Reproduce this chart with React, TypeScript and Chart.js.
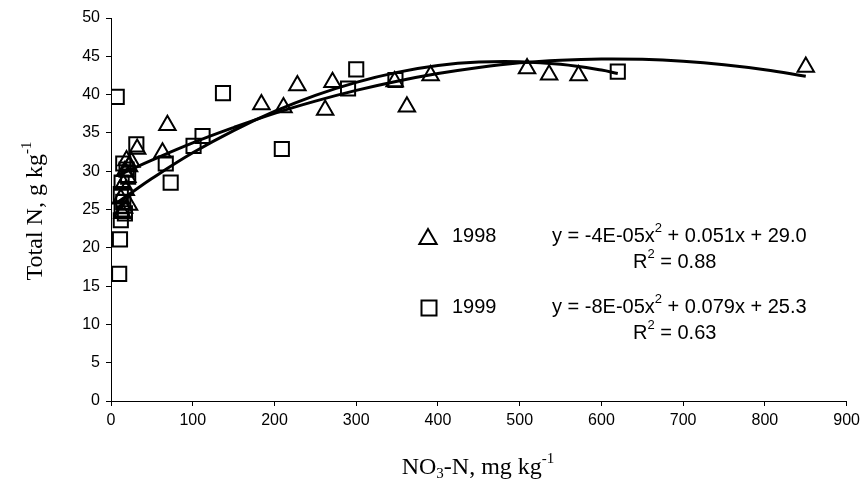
import { useEffect, useRef } from "react";
import { Chart, registerables } from "chart.js";

Chart.register(...registerables);

// 1998 observations (NO3-N mg/kg, Total N g/kg)
const x1998 = [14, 16, 22, 12, 18, 15, 20, 17, 22, 25, 19, 32, 63, 69, 184, 211, 228, 262, 271, 347, 362, 391, 509, 536, 572, 850];
const y1998 = [24.5, 25.2, 25.6, 26.4, 27.5, 28.3, 29.2, 30.0, 30.6, 31.2, 31.4, 32.9, 32.4, 36.0, 38.7, 38.3, 41.2, 38.0, 41.6, 41.7, 38.4, 42.5, 43.4, 42.6, 42.5, 43.6];

// 1999 observations
const x1999 = [7, 10, 11, 12, 13, 17, 15, 12, 13, 21, 19, 15, 31, 67, 73, 101, 112, 137, 209, 290, 300, 348, 620];
const y1999 = [39.7, 16.6, 21.1, 23.6, 25.0, 24.5, 26.0, 27.0, 28.5, 29.3, 30.2, 31.0, 33.5, 31.0, 28.5, 33.3, 34.6, 40.2, 32.9, 40.8, 43.3, 41.9, 43.0];

// Trend curves
const trend1998X = [8, 25, 50, 100, 150, 200, 250, 300, 350, 400, 450, 500, 550, 600, 650, 700, 750, 800, 850];
const trend1998Y = [29.4, 30.25, 31.45, 33.7, 35.7, 37.55, 39.15, 40.55, 41.75, 42.75, 43.55, 44.15, 44.5, 44.65, 44.6, 44.35, 43.9, 43.25, 42.4];
const trend1999X = [7, 25, 50, 100, 150, 200, 250, 300, 350, 400, 450, 500, 550, 600, 620];
const trend1999Y = [25.85, 27.2, 29.05, 32.4, 35.3, 37.8, 39.9, 41.6, 42.9, 43.8, 44.25, 44.3, 43.95, 43.2, 42.75];

const xTicksMax = 900;
const yTicksMax = 50;

const legendYears = ["1998", "1999"];
const eqMain = [
  ["y = -4E-05x", "2", " + 0.051x + 29.0"],
  ["y = -8E-05x", "2", " + 0.079x + 25.3"],
];
const eqR2 = ["0.88", "0.63"];

const SANS = "'Liberation Sans', Arial, sans-serif";
const SERIF = "'Liberation Serif', 'Times New Roman', serif";

function toPts(xs: number[], ys: number[]) {
  return xs.map((x, i) => ({ x, y: ys[i] }));
}

function drawTriangle(ctx: CanvasRenderingContext2D, x: number, y: number, r: number) {
  ctx.beginPath();
  ctx.moveTo(x, y - r);
  ctx.lineTo(x + r * Math.sin((2 * Math.PI) / 3), y - r * Math.cos((2 * Math.PI) / 3));
  ctx.lineTo(x + r * Math.sin((4 * Math.PI) / 3), y - r * Math.cos((4 * Math.PI) / 3));
  ctx.closePath();
  ctx.stroke();
}

function drawSeg(ctx: CanvasRenderingContext2D, parts: string[], x: number, y: number, big: number, small: number) {
  parts.forEach((p, i) => {
    const sup = i % 2 === 1;
    ctx.font = `${sup ? small : big}px ${SANS}`;
    ctx.fillText(p, x, sup ? y - 8 : y);
    x += ctx.measureText(p).width;
  });
}

const annotPlugin = {
  id: "annot",
  afterDraw(chart: any) {
    const ctx: CanvasRenderingContext2D = chart.ctx;
    ctx.save();
    ctx.fillStyle = "#000";
    ctx.strokeStyle = "#000";
    ctx.lineWidth = 2;
    // legend markers
    drawTriangle(ctx, 428, 239, 10);
    ctx.strokeRect(421.5, 300.5, 15, 15);
    ctx.textBaseline = "middle";
    ctx.textAlign = "left";
    ctx.font = `20px ${SANS}`;
    ctx.fillText(legendYears[0], 452, 236);
    ctx.fillText(legendYears[1], 452, 307);
    const rows = [236, 307];
    rows.forEach((ry, i) => {
      drawSeg(ctx, eqMain[i], 552, ry, 20, 13);
      drawSeg(ctx, ["R", "2", " = " + eqR2[i]], 633, ry + 26, 20, 13);
    });
    // x title: NO3-N, mg kg-1
    const big = 24, small = 15;
    const p1 = "NO", p2 = "3", p3 = "-N, mg kg", p4 = "-1";
    ctx.font = `${big}px ${SERIF}`;
    const w1 = ctx.measureText(p1).width;
    const w3 = ctx.measureText(p3).width;
    ctx.font = `${small}px ${SERIF}`;
    const w2 = ctx.measureText(p2).width;
    const w4 = ctx.measureText(p4).width;
    const total = w1 + w2 + w3 + w4;
    let tx = 478 - total / 2;
    const ty = 468;
    ctx.font = `${big}px ${SERIF}`;
    ctx.fillText(p1, tx, ty);
    tx += w1;
    ctx.font = `${small}px ${SERIF}`;
    ctx.fillText(p2, tx, ty + 6);
    tx += w2;
    ctx.font = `${big}px ${SERIF}`;
    ctx.fillText(p3, tx, ty);
    tx += w3;
    ctx.font = `${small}px ${SERIF}`;
    ctx.fillText(p4, tx, ty - 9);
    // y title: Total N, g kg-1
    ctx.save();
    ctx.translate(36, 211);
    ctx.rotate(-Math.PI / 2);
    const q1 = "Total N, g kg", q2 = "-1";
    ctx.font = `${big}px ${SERIF}`;
    const v1 = ctx.measureText(q1).width;
    ctx.font = `${small}px ${SERIF}`;
    const v2 = ctx.measureText(q2).width;
    let qx = -(v1 + v2) / 2;
    ctx.font = `${big}px ${SERIF}`;
    ctx.fillText(q1, qx, 0);
    qx += v1;
    ctx.font = `${small}px ${SERIF}`;
    ctx.fillText(q2, qx, -9);
    ctx.restore();
    ctx.restore();
  },
};

export default function App() {
  const ref = useRef<HTMLCanvasElement | null>(null);
  useEffect(() => {
    if (!ref.current) return;
    const chart = new Chart(ref.current, {
      type: "scatter",
      data: {
        datasets: [
          {
            label: "1998 trend",
            type: "line",
            data: toPts(trend1998X, trend1998Y),
            borderColor: "#000",
            borderWidth: 3,
            pointRadius: 0,
            tension: 0.4,
            fill: false,
            order: 2,
          },
          {
            label: "1999 trend",
            type: "line",
            data: toPts(trend1999X, trend1999Y),
            borderColor: "#000",
            borderWidth: 3,
            pointRadius: 0,
            tension: 0.4,
            fill: false,
            order: 2,
          },
          {
            label: "1998",
            data: toPts(x1998, y1998),
            pointStyle: "triangle",
            pointRadius: 9.5,
            borderColor: "#000",
            backgroundColor: "rgba(0,0,0,0)",
            pointBorderWidth: 2,
            order: 1,
          },
          {
            label: "1999",
            data: toPts(x1999, y1999),
            pointStyle: "rect",
            pointRadius: 10,
            borderColor: "#000",
            backgroundColor: "rgba(0,0,0,0)",
            pointBorderWidth: 2,
            order: 1,
          },
        ],
      },
      options: {
        animation: false,
        responsive: false,
        maintainAspectRatio: false,
        layout: { padding: { top: 18, right: 18, left: 0, bottom: 0 } },
        plugins: { legend: { display: false }, tooltip: { enabled: false } },
        scales: {
          x: {
            type: "linear",
            min: 0,
            max: xTicksMax,
            ticks: { stepSize: 100, color: "#000", font: { family: SANS, size: 16 }, padding: 5 },
            grid: { drawOnChartArea: false, drawTicks: true, tickLength: 5, color: "#000" },
            border: { color: "#000", width: 1 },
            afterFit: (s: any) => {
              s.height = 91;
            },
          },
          y: {
            type: "linear",
            min: 0,
            max: yTicksMax,
            ticks: { stepSize: 5, color: "#000", font: { family: SANS, size: 16 }, padding: 6 },
            grid: { drawOnChartArea: false, drawTicks: true, tickLength: 5, color: "#000" },
            border: { color: "#000", width: 1 },
            afterFit: (s: any) => {
              s.width = 111;
            },
          },
        },
      },
      plugins: [annotPlugin],
    } as any);
    return () => chart.destroy();
  }, []);
  return (
    <div style={{ position: "absolute", left: 0, top: 0, width: 865, height: 492, background: "#fff" }}>
      <canvas ref={ref} width={865} height={492} style={{ width: 865, height: 492, display: "block" }} />
    </div>
  );
}
